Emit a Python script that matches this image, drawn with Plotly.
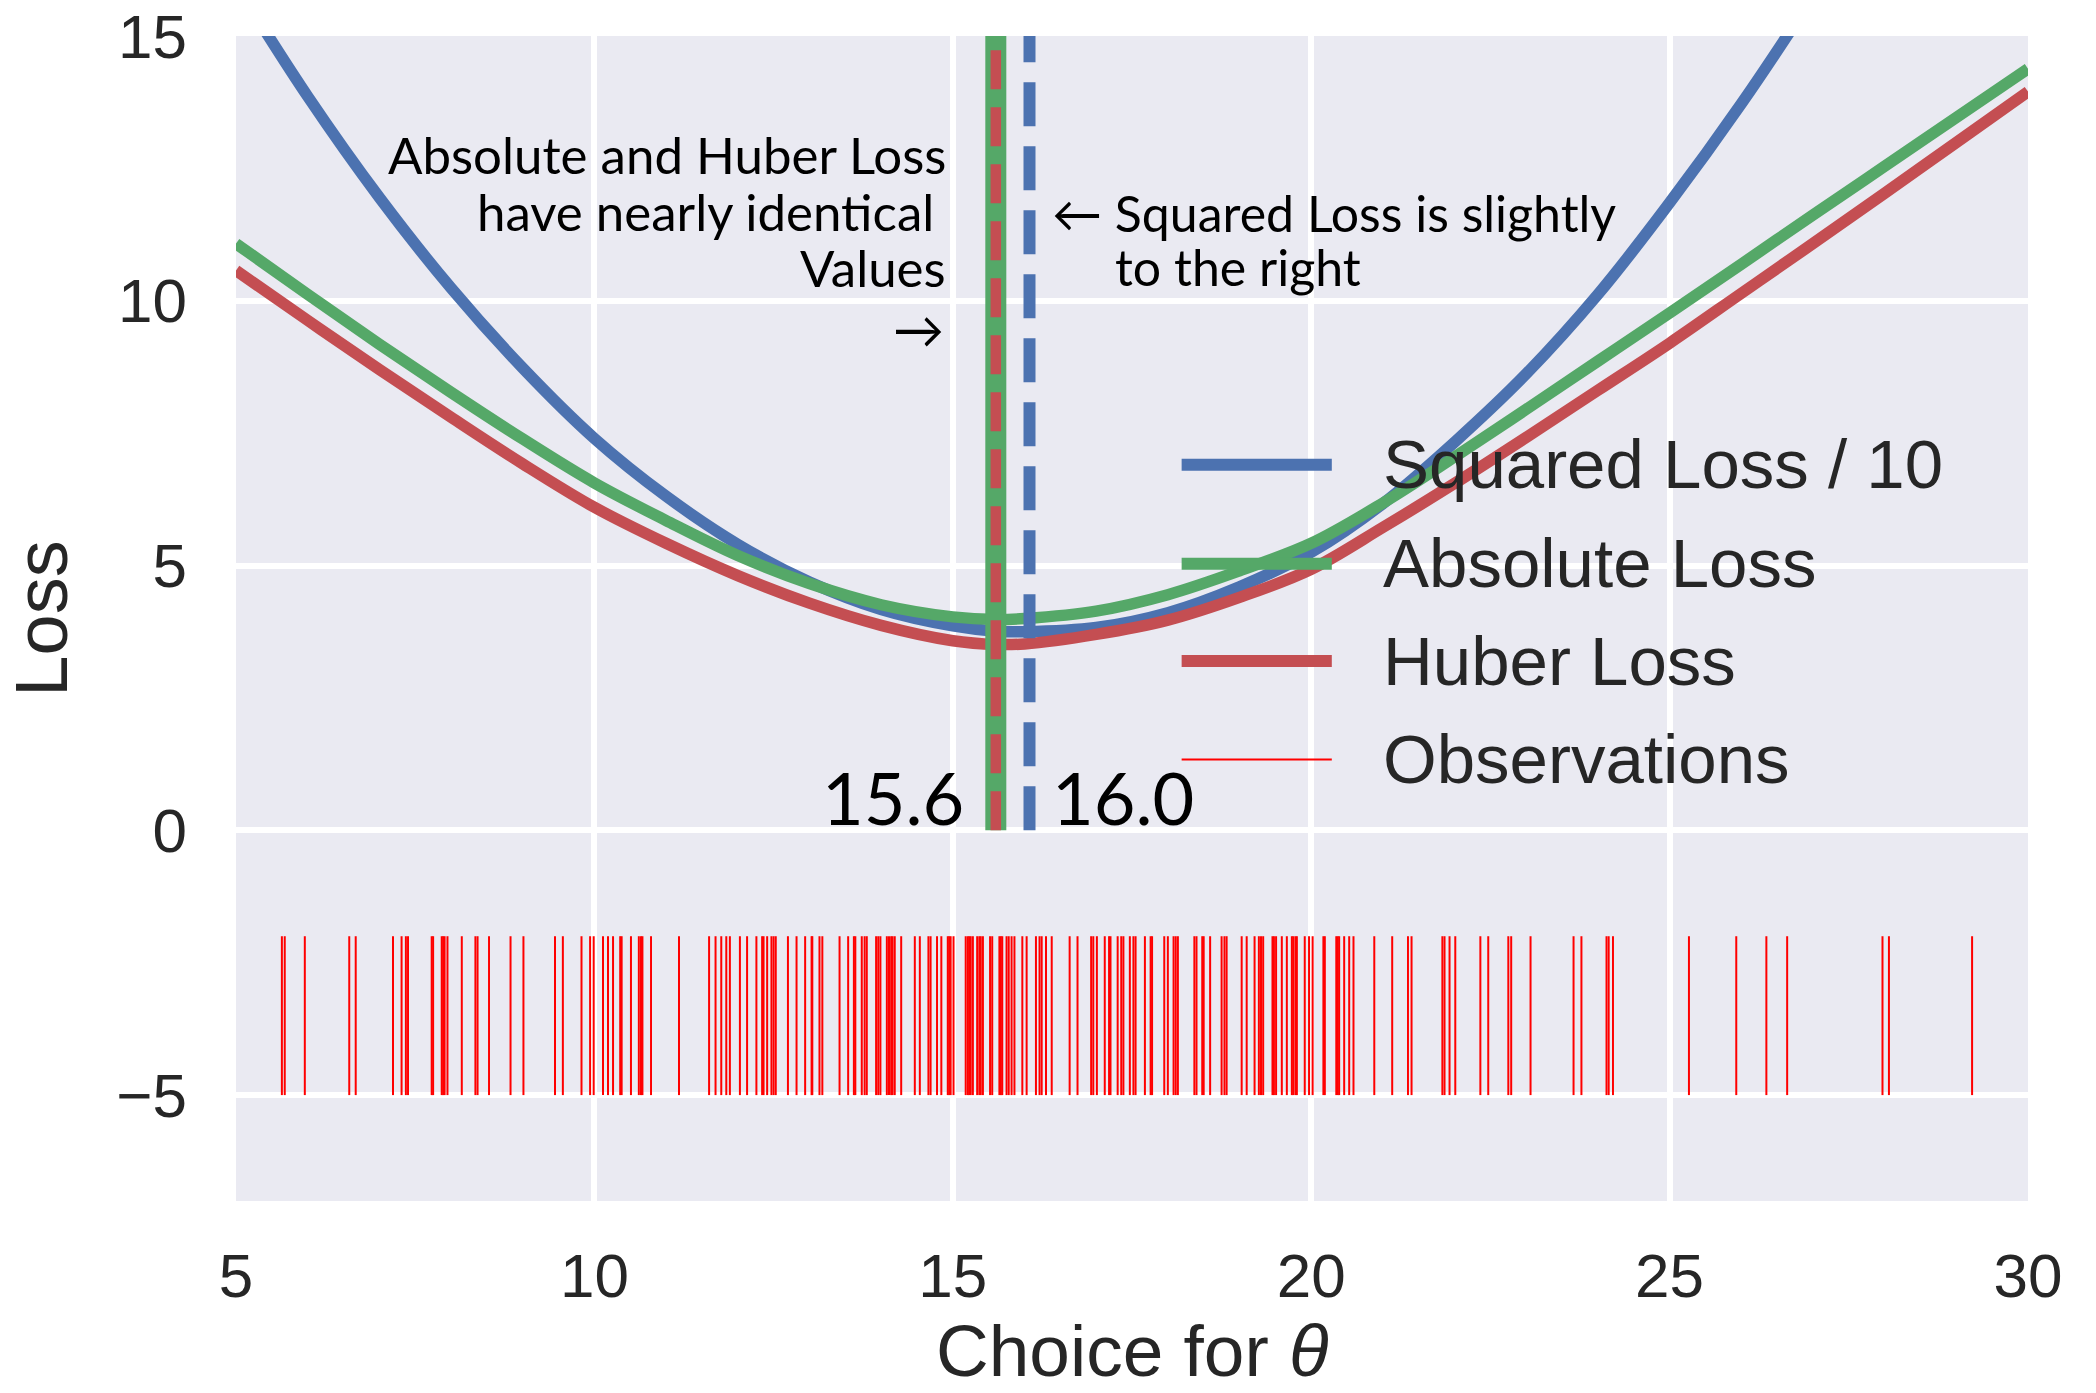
import plotly.graph_objects as go

# ---------------- data ----------------
theta = [5, 6, 7, 8, 9, 10, 11, 12, 13, 14, 15, 15.6, 16, 17, 18, 19, 20,
         21, 22, 23, 24, 25, 26, 27, 28, 29, 30]

squared_loss_div10 = [15.97, 13.86, 11.95, 10.24, 8.73, 7.40, 6.31, 5.40, 4.69,
                      4.17, 3.86, 3.76, 3.75, 3.83, 4.11, 4.60, 5.25, 6.17, 7.33,
                      8.62, 10.12, 11.85, 13.72, 15.75, 17.9, 20.4, 23.0]

absolute_loss = [11.08, 10.12, 9.18, 8.27, 7.39, 6.56, 5.85, 5.19, 4.66, 4.26,
                 4.03, 3.98, 4.00, 4.14, 4.45, 4.90, 5.42, 6.18, 7.05, 7.95,
                 8.86, 9.77, 10.69, 11.62, 12.54, 13.46, 14.38]

huber_loss = [10.57, 9.63, 8.70, 7.80, 6.92, 6.10, 5.42, 4.81, 4.29, 3.87,
              3.58, 3.51, 3.52, 3.70, 3.97, 4.40, 4.93, 5.72, 6.55, 7.42,
              8.31, 9.20, 10.14, 11.08, 12.03, 12.99, 13.95]

observations = [
    5.64, 5.68, 5.96, 6.58, 6.67, 7.19, 7.31, 7.37, 7.40, 7.73, 7.75, 7.87,
    7.89, 7.91, 7.95, 8.15, 8.34, 8.37, 8.53, 8.83, 9.01, 9.45, 9.56, 9.82,
    9.94, 9.99, 10.12, 10.19, 10.26, 10.36, 10.38, 10.51, 10.62, 10.65, 10.67,
    10.79, 11.18, 11.60, 11.69, 11.77, 11.84, 11.89, 12.03, 12.13, 12.26,
    12.34, 12.36, 12.41, 12.47, 12.50, 12.53, 12.70, 12.82, 12.94, 13.03,
    13.04, 13.14, 13.18, 13.42, 13.54, 13.62, 13.64, 13.73, 13.77, 13.80,
    13.93, 13.96, 13.99, 14.08, 14.11, 14.14, 14.16, 14.19, 14.28, 14.47,
    14.54, 14.66, 14.69, 14.78, 14.84, 14.93, 14.95, 14.97, 15.01, 15.18,
    15.21, 15.23, 15.25, 15.28, 15.34, 15.37, 15.39, 15.42, 15.52, 15.55,
    15.65, 15.67, 15.69, 15.75, 15.78, 15.82, 15.86, 15.97, 16.03, 16.16,
    16.21, 16.24, 16.30, 16.38, 16.63, 16.74, 16.93, 16.96, 17.01, 17.12,
    17.18, 17.20, 17.30, 17.35, 17.38, 17.47, 17.52, 17.55, 17.68, 17.76,
    17.78, 17.95, 18.00, 18.08, 18.11, 18.14, 18.37, 18.40, 18.48, 18.50,
    18.59, 18.75, 18.79, 18.82, 19.03, 19.10, 19.21, 19.27, 19.30, 19.33,
    19.46, 19.48, 19.51, 19.59, 19.66, 19.73, 19.75, 19.78, 19.80, 19.91,
    19.97, 20.02, 20.17, 20.19, 20.35, 20.37, 20.39, 20.46, 20.53, 20.59,
    20.88, 21.13, 21.35, 21.40, 21.83, 21.86, 21.93, 22.01, 22.36, 22.47,
    22.75, 22.79, 23.06, 23.66, 23.77, 24.12, 24.15, 24.21, 25.27, 25.93,
    26.35, 26.64, 27.97, 28.06, 29.22,
]

median_theta = 15.6     # minimiser of absolute / huber loss
mean_theta = 16.07      # minimiser of squared loss
median_label = "15.6"
mean_label = "16.0"

x_ticks = [5, 10, 15, 20, 25, 30]
y_ticks = [-5, 0, 5, 10, 15]
y_tick_text = ["\u22125", "0", "5", "10", "15"]

series_names = ["Squared Loss / 10", "Absolute Loss", "Huber Loss", "Observations"]
x_title = "Choice for <i>\u03b8</i>"
y_title = "Loss"

# ---------------- styles ----------------
BLUE, GREEN, RED, RUG = "#4C72B0", "#55A868", "#C44E52", "#FF0000"
TXT = "#262626"
AXFONT = "Liberation Sans, Arial, sans-serif"
NOTEFONT = "Lato, sans-serif"
RUG_LOW, RUG_HIGH = -5, -2
VLINE_LOW, VLINE_HIGH = 0, 15.6

fig = go.Figure()

# loss curves
for name, vals, color in [(series_names[0], squared_loss_div10, BLUE),
                          (series_names[1], absolute_loss, GREEN),
                          (series_names[2], huber_loss, RED)]:
    fig.add_trace(go.Scatter(x=theta, y=vals, mode="lines", name=name,
                             line=dict(color=color, width=11.5, shape="spline",
                                       smoothing=1.0),
                             showlegend=False, hoverinfo="skip"))

# rug of observations
rx, ry = [], []
for v in observations:
    rx += [v, v, None]
    ry += [RUG_LOW, RUG_HIGH, None]
fig.add_trace(go.Scatter(x=rx, y=ry, mode="lines", name=series_names[3],
                         line=dict(color=RUG, width=2), showlegend=False,
                         hoverinfo="skip"))

# vertical minimiser lines
fig.add_trace(go.Scatter(x=[median_theta] * 2, y=[VLINE_LOW, VLINE_HIGH],
                         mode="lines", line=dict(color=GREEN, width=21),
                         showlegend=False, hoverinfo="skip"))
fig.add_trace(go.Scatter(x=[median_theta] * 2, y=[VLINE_LOW, VLINE_HIGH],
                         mode="lines",
                         line=dict(color=RED, width=10.5, dash="39px,18px"),
                         showlegend=False, hoverinfo="skip"))
fig.add_trace(go.Scatter(x=[mean_theta] * 2, y=[VLINE_LOW, VLINE_HIGH],
                         mode="lines",
                         line=dict(color=BLUE, width=12, dash="44px,20px"),
                         showlegend=False, hoverinfo="skip"))

# ---------------- custom legend (long line samples like the original) -------
legend_colors = [BLUE, GREEN, RED, RUG]
legend_widths = [12, 12, 12, 2]
legend_rows = [0.632, 0.547, 0.4635, 0.379]
shapes = []
annotations = []
for name, color, w, yr in zip(series_names, legend_colors, legend_widths, legend_rows):
    shapes.append(dict(type="line", xref="paper", yref="paper",
                       x0=0.5277, x1=0.6115, y0=yr, y1=yr,
                       line=dict(color=color, width=w)))
    annotations.append(dict(xref="paper", yref="paper", x=0.639, y=yr,
                            xanchor="left", yanchor="middle", showarrow=False,
                            text=name, font=dict(family=AXFONT, size=69, color=TXT)))

# ---------------- notes ----------------
left_note = [("Absolute and Huber Loss", 14.93, 12.76),
             ("have nearly identical", 14.76, 11.68),
             ("Values", 14.93, 10.62),
             ("\u2192", 14.90, 9.48)]
for txt, xx, yy in left_note:
    annotations.append(dict(x=xx, y=yy, xref="x", yref="y", xanchor="right",
                            yanchor="middle", showarrow=False, text=txt,
                            font=dict(family=NOTEFONT, size=51, color="black")))
right_note = [("\u2190 Squared Loss is slightly", 16.35, 11.66),
              ("to the right", 17.24, 10.64)]
for txt, xx, yy in right_note:
    annotations.append(dict(x=xx, y=yy, xref="x", yref="y", xanchor="left",
                            yanchor="middle", showarrow=False, text=txt,
                            font=dict(family=NOTEFONT, size=50, color="black")))

annotations.append(dict(x=15.18, y=0.62, xref="x", yref="y", xanchor="right",
                        yanchor="middle", showarrow=False, text=median_label,
                        font=dict(family=NOTEFONT, size=72, color="black")))
annotations.append(dict(x=16.35, y=0.62, xref="x", yref="y", xanchor="left",
                        yanchor="middle", showarrow=False, text=mean_label,
                        font=dict(family=NOTEFONT, size=72, color="black")))

# x-axis title (placed as annotation so it can sit close to the page bottom)
annotations.append(dict(xref="paper", yref="paper", x=0.5, y=-0.128,
                        xanchor="center", yanchor="middle", showarrow=False,
                        text=x_title, font=dict(family=AXFONT, size=73, color=TXT)))

fig.update_layout(
    width=2096, height=1393,
    margin=dict(l=236, r=68, t=36, b=192, autoexpand=False),
    paper_bgcolor="white", plot_bgcolor="#EAEAF2",
    showlegend=False,
    shapes=shapes, annotations=annotations,
    xaxis=dict(range=[5, 30], tickvals=x_ticks, showgrid=True, automargin=False,
               gridcolor="white", gridwidth=6, zeroline=False, showline=False,
               ticks="", ticklabelstandoff=33,
               tickfont=dict(family=AXFONT, size=62, color=TXT)),
    yaxis=dict(range=[-7, 15], tickvals=y_ticks, ticktext=y_tick_text,
               showgrid=True, gridcolor="white", gridwidth=6, zeroline=False,
               automargin=False,
               showline=False, ticks="", ticklabelstandoff=48,
               tickfont=dict(family=AXFONT, size=62, color=TXT),
               title=dict(text=y_title, standoff=36,
                          font=dict(family=AXFONT, size=74, color=TXT))),
)

fig.write_html("out.html")
